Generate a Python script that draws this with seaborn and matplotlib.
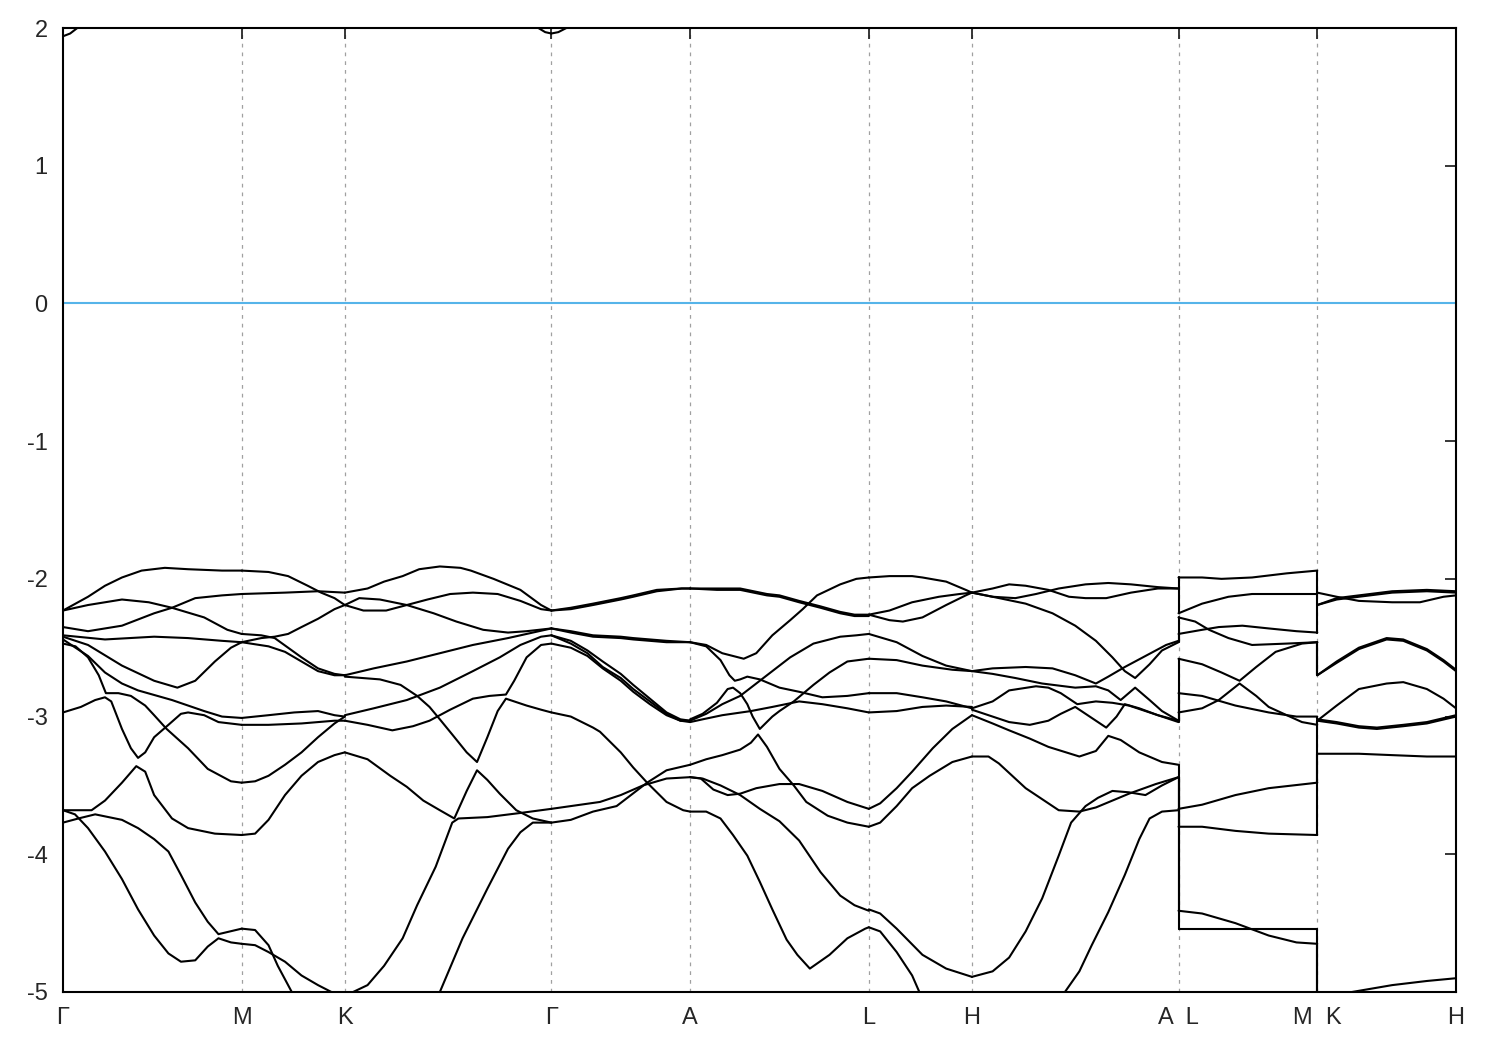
import numpy as np
import pandas as pd
import matplotlib
matplotlib.use("Agg")
import matplotlib.pyplot as plt
import seaborn as sns

# =========================================
# high-symmetry path (k distance, 2*pi/a units)
# =========================================
kpath = [0.0, 0.577, 0.910, 1.577, 2.025, 2.602, 2.935, 3.602, 4.050, 4.498]
klabels = ['Γ', 'M', 'K', 'Γ', 'A', 'L', 'H', 'A  L', 'M  K', 'H']

# each band: (fraction along segment, energy in eV)
GM_bands = [
    ([0, .14, .235, .33, .44, .57, .70, .89, 1], [-2.23, -2.13, -2.05, -1.99, -1.94, -1.92, -1.93, -1.94, -1.94]),
    ([0, .14, .33, .48, .61, .79, .92, 1], [-2.23, -2.19, -2.15, -2.17, -2.21, -2.28, -2.37, -2.40]),
    ([0, .14, .33, .51, .61, .74, .89, 1], [-2.35, -2.38, -2.34, -2.25, -2.21, -2.14, -2.12, -2.11]),
    ([0, .235, .51, .70, .89, 1], [-2.41, -2.44, -2.42, -2.43, -2.45, -2.46]),
    ([0, .14, .33, .51, .64, .74, .85, .94, 1], [-2.42, -2.48, -2.63, -2.74, -2.79, -2.74, -2.60, -2.50, -2.46]),
    ([0, .14, .235, .33, .42, .61, .79, .89, 1], [-2.44, -2.56, -2.68, -2.76, -2.81, -2.88, -2.96, -3.00, -3.01]),
    ([0, .07, .14, .2, .24, .31, .38, .46, .51, .58, .70, .81, .94, 1],
     [-2.47, -2.49, -2.57, -2.70, -2.83, -2.83, -2.85, -2.92, -2.99, -3.09, -3.23, -3.38, -3.47, -3.48]),
    ([0, .1, .18, .235, .27, .33, .38, .42, .46, .51, .59, .66, .70, .79, .87, 1],
     [-2.97, -2.93, -2.88, -2.86, -2.89, -3.09, -3.23, -3.30, -3.26, -3.15, -3.06, -2.98, -2.97, -2.99, -3.04, -3.06]),
    ([0, .16, .235, .33, .41, .46, .51, .61, .70, .85, 1],
     [-3.68, -3.68, -3.61, -3.48, -3.36, -3.40, -3.57, -3.74, -3.81, -3.85, -3.86]),
    ([0, .086, .18, .33, .42, .51, .59, .66, .74, .81, .87, 1],
     [-3.77, -3.74, -3.71, -3.75, -3.81, -3.89, -3.98, -4.15, -4.35, -4.49, -4.58, -4.54]),
    ([0, .067, .14, .235, .33, .42, .51, .59, .66, .74, .81, .87, .94, 1],
     [-3.68, -3.71, -3.81, -3.98, -4.18, -4.40, -4.59, -4.72, -4.78, -4.77, -4.67, -4.61, -4.64, -4.65]),
    ([0, .04, .08, .12], [1.94, 1.96, 2.0, 2.05]),
]

MK_bands = [
    ([0, .26, .45, .64, .77, .90, 1], [-1.94, -1.95, -1.98, -2.05, -2.10, -2.14, -2.19]),
    ([0, .42, .74, 1], [-2.11, -2.10, -2.09, -2.10]),
    ([0, .19, .32, .45, .58, .74, .90, 1], [-2.40, -2.41, -2.43, -2.50, -2.57, -2.65, -2.69, -2.70]),
    ([0, .26, .42, .58, .74, .90, 1], [-2.46, -2.49, -2.53, -2.60, -2.67, -2.70, -2.70]),
    ([0, .19, .32, .45, .58, .74, .90, 1], [-2.46, -2.43, -2.42, -2.40, -2.35, -2.29, -2.22, -2.19]),
    ([0, .26, .51, .74, .90, 1], [-3.01, -2.99, -2.97, -2.96, -2.99, -3.00]),
    ([0, .26, .58, .90, 1], [-3.06, -3.06, -3.05, -3.03, -3.03]),
    ([0, .13, .26, .42, .58, .74, .90, 1], [-3.48, -3.47, -3.43, -3.35, -3.26, -3.15, -3.05, -3.00]),
    ([0, .13, .26, .42, .58, .74, .90, 1], [-3.86, -3.85, -3.75, -3.57, -3.43, -3.33, -3.28, -3.26]),
    ([0, .13, .26, .35, .45, .50, .55], [-4.54, -4.55, -4.66, -4.81, -4.95, -5.02, -5.1]),
    ([0, .13, .26, .42, .58, .74, .87, 1], [-4.65, -4.66, -4.71, -4.78, -4.88, -4.95, -5.0, -5.05]),
]

KG_bands = [
    ([0, .11, .19, .28, .36, .46, .56, .61, .72, .85, .95, 1],
     [-2.10, -2.07, -2.02, -1.98, -1.93, -1.91, -1.92, -1.94, -2.00, -2.08, -2.19, -2.23]),
    ([0, .09, .20, .30, .40, .51, .62, .74, .85, .95, 1],
     [-2.19, -2.23, -2.23, -2.19, -2.15, -2.11, -2.10, -2.11, -2.16, -2.22, -2.23]),
    ([0, .07, .17, .30, .43, .54, .67, .79, .88, 1],
     [-2.19, -2.14, -2.15, -2.19, -2.25, -2.31, -2.37, -2.39, -2.38, -2.36]),
    ([0, .14, .30, .46, .62, .79, .88, 1], [-2.70, -2.65, -2.60, -2.54, -2.48, -2.43, -2.40, -2.36]),
    ([0, .14, .30, .46, .62, .75, .85, .95, 1], [-2.99, -2.94, -2.88, -2.79, -2.67, -2.57, -2.48, -2.42, -2.41]),
    ([0, .17, .27, .35, .41, .46, .52, .59, .64, .69, .74, .78, .88, .95, 1],
     [-2.71, -2.73, -2.77, -2.85, -2.93, -3.02, -3.13, -3.26, -3.33, -3.15, -2.96, -2.87, -2.92, -2.95, -2.97]),
    ([0, .11, .23, .33, .41, .51, .62, .70, .78, .82, .88, .95, 1],
     [-3.03, -3.06, -3.10, -3.07, -3.03, -2.95, -2.87, -2.85, -2.84, -2.74, -2.57, -2.48, -2.47]),
    ([0, .11, .22, .30, .38, .46, .53, .59, .64, .69, .75, .83, .91, 1],
     [-3.26, -3.31, -3.43, -3.51, -3.61, -3.68, -3.74, -3.54, -3.39, -3.46, -3.56, -3.68, -3.74, -3.77]),
    ([0, .04, .11, .19, .28, .35, .44, .52, .55, .69, .85, 1],
     [-5.05, -5.0, -4.95, -4.81, -4.61, -4.37, -4.09, -3.77, -3.74, -3.73, -3.70, -3.67]),
    ([.44, .46, .57, .69, .79, .85, .91, 1], [-5.1, -5.0, -4.61, -4.25, -3.96, -3.84, -3.77, -3.77]),
    ([.88, .937, .97, 1], [2.05, 2.0, 1.97, 1.96]),
]

GA_bands = [
    ([0, .14, .30, .50, .59, .76, .94, 1], [-2.23, -2.21, -2.18, -2.14, -2.12, -2.08, -2.07, -2.07]),
    ([0, .14, .30, .50, .59, .76, .94, 1], [-2.23, -2.22, -2.19, -2.15, -2.13, -2.09, -2.07, -2.07]),
    ([0, .14, .30, .50, .59, .83, 1], [-2.36, -2.38, -2.41, -2.42, -2.43, -2.45, -2.46]),
    ([0, .14, .30, .50, .59, .83, 1], [-2.36, -2.39, -2.42, -2.43, -2.44, -2.46, -2.46]),
    ([0, .14, .26, .37, .50, .59, .71, .83, .93, 1], [-2.41, -2.45, -2.52, -2.60, -2.69, -2.77, -2.87, -2.97, -3.02, -3.03]),
    ([0, .14, .26, .37, .50, .59, .71, .83, .93, 1], [-2.41, -2.47, -2.54, -2.64, -2.72, -2.80, -2.89, -2.98, -3.03, -3.03]),
    ([0, .14, .26, .37, .50, .59, .71, .83, .93, 1], [-2.47, -2.50, -2.56, -2.65, -2.74, -2.82, -2.91, -2.99, -3.03, -3.04]),
    ([0, .14, .30, .35, .50, .59, .69, .83, .95, 1], [-2.97, -3.00, -3.08, -3.11, -3.26, -3.37, -3.48, -3.62, -3.68, -3.69]),
    ([0, .14, .35, .50, .66, .83, 1], [-3.67, -3.65, -3.62, -3.57, -3.50, -3.45, -3.44]),
    ([0, .14, .30, .47, .69, .83, 1], [-3.77, -3.75, -3.69, -3.65, -3.48, -3.39, -3.35]),
    ([0, .05, .108, .15], [1.96, 1.97, 2.0, 2.05]),
]

AL_bands = [
    ([0, .15, .28, .43, .50, .61, .73, .84, .92, 1], [-2.07, -2.07, -2.07, -2.11, -2.12, -2.16, -2.20, -2.24, -2.26, -2.26]),
    ([0, .15, .28, .43, .50, .61, .73, .84, .92, 1], [-2.07, -2.08, -2.08, -2.12, -2.13, -2.17, -2.21, -2.25, -2.27, -2.27]),
    ([0, .09, .18, .30, .37, .46, .56, .63, .71, .84, .93, 1],
     [-2.46, -2.48, -2.54, -2.58, -2.54, -2.41, -2.30, -2.22, -2.12, -2.04, -2.00, -1.99]),
    ([0, .09, .17, .22, .25, .28, .32, .39, .50, .61, .74, .88, 1],
     [-2.46, -2.49, -2.59, -2.70, -2.74, -2.73, -2.71, -2.73, -2.79, -2.82, -2.86, -2.85, -2.83]),
    ([0, .07, .15, .21, .24, .28, .32, .35, .39, .46, .50, .58, .69, .78, .88, 1],
     [-3.02, -2.98, -2.90, -2.80, -2.79, -2.83, -2.91, -3.00, -3.09, -3.00, -2.96, -2.89, -2.77, -2.68, -2.60, -2.58]),
    ([0, .09, .18, .28, .37, .46, .56, .69, .84, .93, 1],
     [-3.03, -2.98, -2.91, -2.85, -2.76, -2.67, -2.57, -2.47, -2.42, -2.41, -2.40]),
    ([0, .07, .18, .34, .46, .61, .74, .88, 1], [-3.04, -3.02, -2.99, -2.96, -2.93, -2.89, -2.91, -2.94, -2.97]),
    ([0, .09, .18, .28, .34, .38, .43, .50, .58, .65, .77, .88, 1],
     [-3.35, -3.31, -3.28, -3.24, -3.19, -3.13, -3.22, -3.38, -3.50, -3.62, -3.72, -3.77, -3.80]),
    ([0, .06, .13, .21, .28, .37, .50, .61, .74, .88, 1],
     [-3.44, -3.45, -3.53, -3.57, -3.56, -3.52, -3.49, -3.49, -3.54, -3.62, -3.67]),
    ([0, .07, .17, .28, .39, .50, .61, .73, .84, .92, 1],
     [-3.44, -3.45, -3.50, -3.57, -3.67, -3.76, -3.90, -4.13, -4.30, -4.37, -4.41]),
    ([0, .09, .17, .24, .32, .39, .46, .54, .60, .67, .78, .88, .98, 1],
     [-3.69, -3.69, -3.74, -3.86, -4.01, -4.20, -4.40, -4.62, -4.73, -4.83, -4.73, -4.61, -4.54, -4.53]),
]

LH_bands = [
    ([0, .20, .42, .52, .75, .94, 1], [-1.99, -1.98, -1.98, -1.99, -2.02, -2.08, -2.10]),
    ([0, .20, .33, .52, .75, .94, 1], [-2.26, -2.30, -2.31, -2.28, -2.19, -2.12, -2.10]),
    ([0, .20, .42, .68, .88, 1], [-2.26, -2.23, -2.17, -2.13, -2.11, -2.10]),
    ([0, .27, .52, .75, 1], [-2.40, -2.46, -2.56, -2.63, -2.67]),
    ([0, .27, .52, .81, 1], [-2.58, -2.59, -2.63, -2.66, -2.67]),
    ([0, .27, .52, .75, 1], [-2.83, -2.83, -2.86, -2.89, -2.94]),
    ([0, .27, .52, .75, 1], [-2.97, -2.96, -2.93, -2.92, -2.93]),
    ([0, .11, .27, .42, .62, .81, 1], [-3.67, -3.63, -3.52, -3.40, -3.23, -3.09, -2.99]),
    ([0, .11, .27, .42, .59, .81, 1], [-3.80, -3.77, -3.65, -3.52, -3.43, -3.33, -3.29]),
    ([0, .11, .27, .52, .75, 1], [-4.40, -4.43, -4.54, -4.73, -4.83, -4.89]),
    ([0, .11, .27, .42, .49, .55], [-4.53, -4.56, -4.71, -4.88, -5.0, -5.1]),
]

HA_bands = [
    ([0, .10, .18, .26, .37, .47, .55, .65, .77, .90, 1],
     [-2.10, -2.07, -2.04, -2.05, -2.08, -2.13, -2.14, -2.14, -2.10, -2.07, -2.07]),
    ([0, .10, .21, .31, .42, .55, .66, .77, .90, 1],
     [-2.10, -2.13, -2.14, -2.11, -2.07, -2.04, -2.03, -2.04, -2.06, -2.07]),
    ([0, .10, .26, .39, .50, .60, .68, .74, .79, .86, .92, 1],
     [-2.10, -2.13, -2.18, -2.25, -2.34, -2.45, -2.57, -2.67, -2.72, -2.62, -2.52, -2.46]),
    ([0, .10, .26, .39, .50, .60, .66, .74, .84, .94, 1],
     [-2.67, -2.65, -2.64, -2.65, -2.70, -2.76, -2.71, -2.64, -2.56, -2.48, -2.45]),
    ([0, .10, .21, .34, .50, .60, .66, .72, .79, .86, .92, 1],
     [-2.67, -2.69, -2.72, -2.76, -2.79, -2.78, -2.81, -2.88, -2.79, -2.88, -2.96, -3.03]),
    ([0, .10, .18, .31, .37, .43, .51, .60, .68, .76, .84, 1],
     [-2.94, -2.89, -2.81, -2.78, -2.79, -2.83, -2.91, -2.89, -2.90, -2.92, -2.96, -3.04]),
    ([0, .10, .18, .28, .37, .43, .50, .57, .65, .70, .74, .81, .90, 1],
     [-2.95, -3.00, -3.04, -3.06, -3.03, -2.98, -2.93, -3.00, -3.08, -3.00, -2.91, -2.94, -2.99, -3.03]),
    ([0, .10, .18, .28, .37, .52, .60, .66, .72, .81, .92, 1],
     [-2.99, -3.05, -3.10, -3.16, -3.22, -3.29, -3.25, -3.14, -3.17, -3.26, -3.33, -3.35]),
    ([0, .08, .13, .26, .36, .42, .52, .60, .76, .89, 1],
     [-3.29, -3.29, -3.34, -3.52, -3.62, -3.68, -3.69, -3.66, -3.56, -3.49, -3.44]),
    ([0, .10, .18, .26, .34, .42, .48, .55, .61, .68, .76, .84, .92, 1],
     [-4.89, -4.85, -4.75, -4.56, -4.32, -4.01, -3.77, -3.65, -3.59, -3.54, -3.55, -3.57, -3.50, -3.44]),
    ([.44, .45, .52, .58, .66, .74, .81, .86, .92, 1],
     [-5.1, -5.0, -4.85, -4.66, -4.42, -4.15, -3.89, -3.74, -3.69, -3.68]),
]

LM_bands = [
    ([0, .17, .31, .53, .78, 1], [-1.99, -1.99, -2.00, -1.99, -1.96, -1.94]),
    ([0, .17, .36, .53, .78, 1], [-2.25, -2.18, -2.13, -2.11, -2.11, -2.11]),
    ([0, .12, .22, .36, .53, .78, 1], [-2.28, -2.31, -2.37, -2.43, -2.48, -2.47, -2.46]),
    ([0, .17, .29, .46, .65, .85, 1], [-2.40, -2.37, -2.35, -2.34, -2.36, -2.38, -2.39]),
    ([0, .17, .31, .44, .56, .70, .89, 1], [-2.58, -2.62, -2.68, -2.74, -2.64, -2.53, -2.47, -2.46]),
    ([0, .17, .29, .44, .56, .65, .78, .89, 1], [-2.97, -2.94, -2.88, -2.76, -2.85, -2.93, -2.99, -3.04, -3.06]),
    ([0, .17, .41, .65, .85, 1], [-2.83, -2.85, -2.92, -2.97, -3.00, -3.00]),
    ([0, .17, .41, .65, 1], [-3.67, -3.64, -3.57, -3.52, -3.48]),
    ([0, .17, .41, .65, 1], [-3.80, -3.80, -3.83, -3.85, -3.86]),
    ([0, .17, .41, .65, .85, 1], [-4.41, -4.43, -4.50, -4.59, -4.64, -4.65]),
    ([0, 1], [-4.54, -4.54]),
]

KH_bands = [
    ([0, .14, .30, .54, .74, .91, 1], [-2.10, -2.13, -2.16, -2.17, -2.17, -2.13, -2.12]),
    ([0, .14, .30, .54, .79, 1], [-2.19, -2.14, -2.12, -2.09, -2.08, -2.09]),
    ([0, .14, .30, .54, .79, 1], [-2.19, -2.15, -2.13, -2.10, -2.09, -2.10]),
    ([0, .14, .30, .50, .62, .79, .91, 1], [-2.70, -2.60, -2.50, -2.43, -2.44, -2.51, -2.59, -2.66]),
    ([0, .14, .30, .50, .62, .79, .91, 1], [-2.70, -2.61, -2.51, -2.44, -2.45, -2.52, -2.60, -2.67]),
    ([0, .14, .30, .50, .62, .79, .91, 1], [-3.03, -2.92, -2.80, -2.76, -2.75, -2.80, -2.87, -2.94]),
    ([0, .14, .30, .43, .62, .79, 1], [-3.02, -3.04, -3.07, -3.08, -3.06, -3.04, -2.99]),
    ([0, .14, .30, .43, .62, .79, 1], [-3.03, -3.05, -3.08, -3.09, -3.07, -3.05, -3.00]),
    ([0, .30, .54, .79, 1], [-3.27, -3.27, -3.28, -3.29, -3.29]),
    ([0, .2, .25, .54, .79, 1], [-5.1, -5.02, -5.0, -4.95, -4.92, -4.90]),
]

# segment -> (start tick, end tick, bands)
segments = [(0, 1, GM_bands), (1, 2, MK_bands), (2, 3, KG_bands), (3, 4, GA_bands),
            (4, 5, AL_bands), (5, 6, LH_bands), (6, 7, HA_bands), (7, 8, LM_bands),
            (8, 9, KH_bands)]

rows = []
uid = 0
for i0, i1, bands in segments:
    k0, k1 = kpath[i0], kpath[i1]
    for frac, ener in bands:
        for f, e in zip(frac, ener):
            rows.append((uid, k0 + f * (k1 - k0), e))
        uid += 1

# jumps at A|L and M|K: join the bands in energy order
jumps = [(7, HA_bands, LM_bands), (8, LM_bands, KH_bands)]
for it, left, right in jumps:
    e_left = sorted([b[1][-1] for b in left if b[1][-1] < 1.5], reverse=True)
    e_right = sorted([b[1][0] for b in right if b[1][0] < 1.5], reverse=True)
    n = max(len(e_left), len(e_right))
    e_left += [-5.3] * (n - len(e_left))
    e_right += [-5.3] * (n - len(e_right))
    for a, b in zip(e_left, e_right):
        rows.append((uid, kpath[it], a))
        rows.append((uid, kpath[it], b))
        uid += 1

df = pd.DataFrame(rows, columns=['band', 'k', 'E'])

# =========================================
# plot
# =========================================
sns.set_style('white')
plt.rcParams['font.family'] = ['Liberation Sans', 'DejaVu Sans']
plt.rcParams['axes.unicode_minus'] = False

fig, ax = plt.subplots(figsize=(15, 10.5), dpi=100)
fig.subplots_adjust(left=63 / 1500, right=1456 / 1500, top=1 - 28 / 1050, bottom=1 - 992 / 1050)

for k in kpath[1:-1]:
    ax.axvline(k, color='#a0a0a0', lw=0.9, ls=(0, (3, 4)), zorder=0)
ax.axhline(0, color='#56b4e9', lw=1.5, zorder=1)

sns.lineplot(data=df, x='k', y='E', units='band', estimator=None, sort=False,
             color='black', lw=1.5, legend=False, ax=ax, zorder=2)

ax.set_xlim(kpath[0], kpath[-1])
ax.set_ylim(-5, 2)
ax.set_xticks(kpath)
ax.set_xticklabels(klabels)
ax.set_yticks(range(-5, 3))
ax.set_xlabel('')
ax.set_ylabel('')
ax.tick_params(direction='in', top=True, right=True, length=8, width=1.3,
               labelsize=17, pad=11)
for s in ax.spines.values():
    s.set_color('black')
    s.set_linewidth(1.5)

plt.savefig('out.png', dpi=100)
